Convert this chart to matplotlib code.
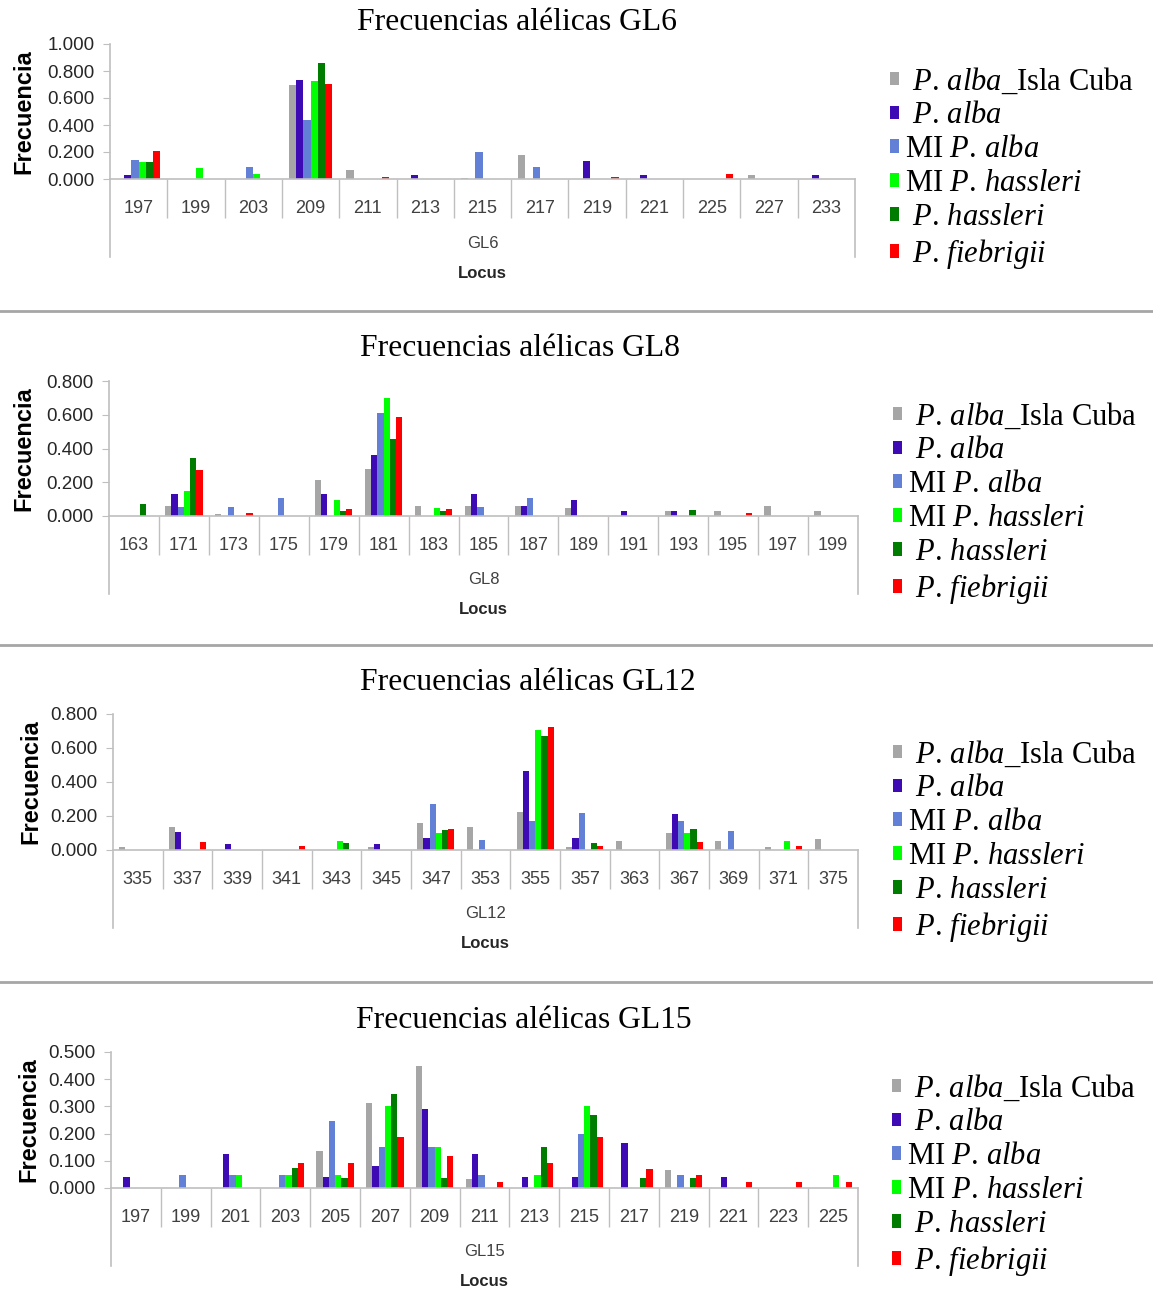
import matplotlib
matplotlib.use("Agg")
import matplotlib.pyplot as plt
from matplotlib.lines import Line2D
import numpy as np

plt.rcParams['mathtext.fontset'] = 'custom'
plt.rcParams['mathtext.it'] = 'Liberation Serif:italic'
plt.rcParams['mathtext.rm'] = 'Liberation Serif'

W, H = 1153, 1291

# ---------------- data ----------------
gl6_alleles = ['197', '199', '203', '209', '211', '213', '215', '217', '219', '221', '225', '227', '233']
gl6_cuba = [0, 0, 0, 0.695, 0.065, 0, 0.005, 0.178, 0, 0, 0, 0.027, 0]
gl6_alba = [0.03, 0, 0, 0.735, 0, 0.03, 0, 0, 0.13, 0.03, 0, 0, 0.03]
gl6_mi_alba = [0.14, 0, 0.09, 0.44, 0, 0, 0.20, 0.09, 0, 0, 0, 0, 0]
gl6_mi_hass = [0.125, 0.085, 0.035, 0.725, 0, 0, 0, 0, 0, 0, 0, 0, 0]
gl6_hass = [0.125, 0, 0, 0.86, 0, 0, 0, 0, 0, 0, 0, 0, 0]
gl6_fieb = [0.205, 0, 0, 0.705, 0.012, 0, 0, 0, 0.012, 0, 0.037, 0, 0]

gl8_alleles = ['163', '171', '173', '175', '179', '181', '183', '185', '187', '189', '191', '193', '195', '197', '199']
gl8_cuba = [0, 0.061, 0.01, 0, 0.215, 0.28, 0.061, 0.061, 0.061, 0.045, 0, 0.028, 0.028, 0.061, 0.028]
gl8_alba = [0, 0.128, 0, 0, 0.128, 0.36, 0, 0.128, 0.061, 0.097, 0.028, 0.028, 0, 0, 0]
gl8_mi_alba = [0, 0.051, 0.051, 0.107, 0, 0.61, 0, 0.051, 0.107, 0, 0, 0, 0, 0, 0]
gl8_mi_hass = [0, 0.146, 0, 0, 0.095, 0.70, 0.045, 0, 0, 0, 0, 0, 0, 0, 0]
gl8_hass = [0.073, 0.346, 0, 0, 0.032, 0.456, 0.032, 0, 0, 0, 0, 0.034, 0, 0, 0]
gl8_fieb = [0, 0.273, 0.016, 0, 0.04, 0.587, 0.04, 0, 0, 0, 0, 0, 0.016, 0, 0]

gl12_alleles = ['335', '337', '339', '341', '343', '345', '347', '353', '355', '357', '363', '367', '369', '371', '375']
gl12_cuba = [0.016, 0.134, 0, 0, 0, 0.016, 0.157, 0.134, 0.224, 0.016, 0.051, 0.10, 0.051, 0.016, 0.067]
gl12_alba = [0, 0.106, 0.033, 0, 0, 0.033, 0.073, 0, 0.466, 0.073, 0, 0.214, 0, 0, 0]
gl12_mi_alba = [0, 0, 0, 0, 0, 0, 0.273, 0.06, 0.169, 0.22, 0, 0.169, 0.112, 0, 0]
gl12_mi_hass = [0, 0, 0, 0, 0.051, 0, 0.10, 0, 0.703, 0, 0, 0.10, 0, 0.051, 0]
gl12_hass = [0, 0, 0, 0, 0.039, 0, 0.12, 0, 0.668, 0.039, 0, 0.124, 0, 0, 0]
gl12_fieb = [0, 0.045, 0, 0.022, 0, 0, 0.126, 0, 0.721, 0.022, 0, 0.045, 0, 0.022, 0]

gl15_alleles = ['197', '199', '201', '203', '205', '207', '209', '211', '213', '215', '217', '219', '221', '223', '225']
gl15_cuba = [0, 0, 0, 0, 0.135, 0.311, 0.447, 0.032, 0, 0, 0, 0.068, 0, 0, 0]
gl15_alba = [0.039, 0, 0.125, 0, 0.039, 0.082, 0.29, 0.125, 0.039, 0.039, 0.166, 0, 0.039, 0, 0]
gl15_mi_alba = [0, 0.047, 0.047, 0.047, 0.247, 0.149, 0.149, 0.047, 0, 0.198, 0, 0.047, 0, 0, 0]
gl15_mi_hass = [0, 0, 0.047, 0.047, 0.047, 0.30, 0.149, 0, 0.047, 0.30, 0, 0, 0, 0, 0.047]
gl15_hass = [0, 0, 0, 0.075, 0.036, 0.345, 0.036, 0, 0.152, 0.268, 0.036, 0.036, 0, 0, 0]
gl15_fieb = [0, 0, 0, 0.093, 0.093, 0.188, 0.118, 0.023, 0.093, 0.188, 0.071, 0.047, 0.023, 0.023, 0.023]

series_labels = [r' $\mathit{P.}\,\mathit{alba}$_Isla Cuba', r' $\mathit{P.}\,\mathit{alba}$',
                 r'MI $\mathit{P.}\,\mathit{alba}$', r'MI $\mathit{P.}\,\mathit{hassleri}$',
                 r' $\mathit{P.}\,\mathit{hassleri}$', r' $\mathit{P.}\,\mathit{fiebrigii}$']
series_colors = ['#a6a6a6', '#3d0ab4', '#6281d6', '#00ff00', '#007c00', '#ff0000']

# (name, alleles, series, ymax, ystep, plot box px (l, r, t, b), title (x, y), legend (x, y), ylabel x)
panels = [
    ('GL6', gl6_alleles, [gl6_cuba, gl6_alba, gl6_mi_alba, gl6_mi_hass, gl6_hass, gl6_fieb],
     1.0, 0.2, (110, 855, 44, 179), (517, 22), (890, 66), 35),
    ('GL8', gl8_alleles, [gl8_cuba, gl8_alba, gl8_mi_alba, gl8_mi_hass, gl8_hass, gl8_fieb],
     0.8, 0.2, (109, 858, 381, 516), (520, 349), (893, 401), 35),
    ('GL12', gl12_alleles, [gl12_cuba, gl12_alba, gl12_mi_alba, gl12_mi_hass, gl12_hass, gl12_fieb],
     0.8, 0.2, (113, 858, 714, 850), (528, 682), (893, 739), 42),
    ('GL15', gl15_alleles, [gl15_cuba, gl15_alba, gl15_mi_alba, gl15_mi_hass, gl15_hass, gl15_fieb],
     0.5, 0.1, (111, 858, 1052, 1188), (524, 1020), (892, 1073), 40),
]

fig = plt.figure(figsize=(W / 100, H / 100), dpi=100)
axis_gray = '#bfbfbf'
text_gray = '#404040'

for name, alleles, series, ymax, ystep, box, title_pos, leg, ylab_x in panels:
    l, r, t, b = box
    ax = fig.add_axes([l / W, 1 - b / H, (r - l) / W, (b - t) / H])
    n = len(alleles)
    x = np.arange(n)
    bw = 0.75 / 6
    handles = []
    for j, (vals, col) in enumerate(zip(series, series_colors)):
        bars = ax.bar(x + (j - 2.5) * bw, vals, width=bw, color=col, linewidth=0)
        handles.append(bars)

    ax.set_xlim(-0.5, n - 0.5)
    ax.set_ylim(0, ymax)
    ax.set_yticks(np.arange(0, ymax + 1e-9, ystep))
    ax.yaxis.set_major_formatter(matplotlib.ticker.FormatStrFormatter('%.3f'))
    for s in ['top', 'right']:
        ax.spines[s].set_visible(False)
    for s in ['left', 'bottom']:
        ax.spines[s].set_color(axis_gray)
        ax.spines[s].set_linewidth(1.2)
    ax.tick_params(axis='y', length=5, color=axis_gray, labelsize=13.5, labelcolor='#262626', pad=6)
    for lab in ax.get_yticklabels():
        lab.set_fontfamily('Liberation Sans')

    ax.set_xticks(x)
    ax.set_xticklabels(alleles, fontfamily='Liberation Sans', fontsize=13, color=text_gray)
    ax.tick_params(axis='x', which='major', length=0, pad=15)
    ax.set_xticks(np.arange(0.5, n - 1, 1.0), minor=True)
    ax.tick_params(axis='x', which='minor', length=39 * 0.72, color=axis_gray, width=1)

    hpx = b - t
    for xa in (0, 1):
        ax.add_line(Line2D([xa, xa], [0, -78 / hpx], transform=ax.transAxes,
                           color=axis_gray, lw=1.2, clip_on=False))
    ax.text(0.5, -64 / hpx, name, transform=ax.transAxes, ha='center', va='center',
            fontsize=12, color=text_gray, fontfamily='Liberation Sans')
    ax.text(0.5, -94 / hpx, 'Locus', transform=ax.transAxes, ha='center', va='center',
            fontsize=12, fontweight='bold', color='#262626', fontfamily='Liberation Sans')

    ax.set_ylabel('Frecuencia', fontsize=17, fontweight='bold', fontfamily='Liberation Sans')
    ax.yaxis.set_label_coords((ylab_x - l) / (r - l), 0.5)

    fig.text(title_pos[0] / W, 1 - title_pos[1] / H, 'Frecuencias alélicas ' + name,
             ha='center', va='center', fontsize=22.8, fontfamily='Liberation Serif')

    ax.legend(handles, series_labels, loc='upper left', bbox_to_anchor=(leg[0] / W, 1 - leg[1] / H),
              bbox_transform=fig.transFigure, frameon=False, prop={'family': 'Liberation Serif', 'size': 22},
              handlelength=0.3, handleheight=0.3, handletextpad=0.2, labelspacing=0.16,
              borderpad=0, borderaxespad=0)

for yy in (311, 645, 982):
    fig.add_artist(Line2D([0, 1], [1 - yy / H, 1 - yy / H], transform=fig.transFigure,
                          color='#a6a6a6', lw=2))

fig.savefig('out.png', dpi=100)
